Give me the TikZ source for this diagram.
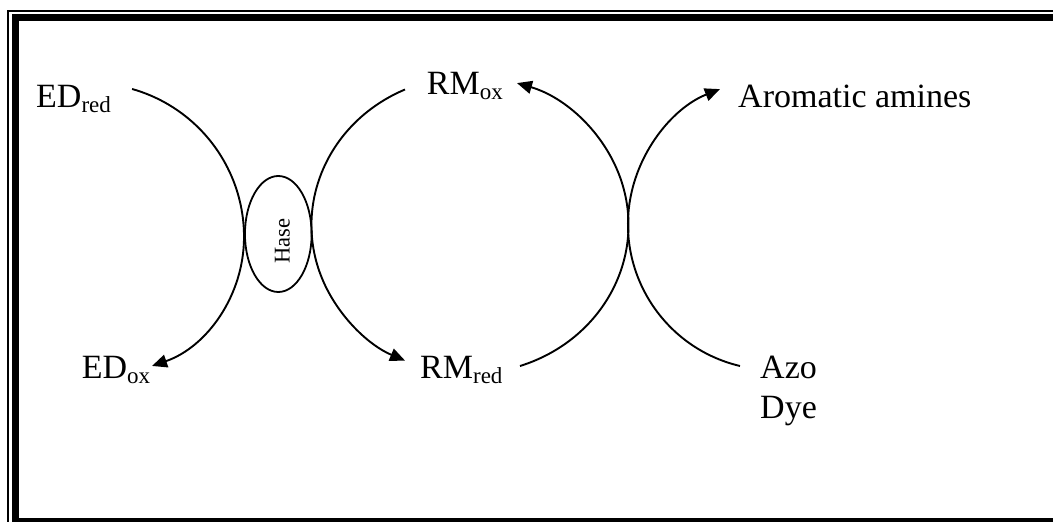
\documentclass[tikz,border=0pt]{standalone}
\usepackage{fontspec}
\setmainfont{Liberation Serif}
\usetikzlibrary{arrows.meta,shapes.geometric}
\newcommand\sbx[1]{\raisebox{-5pt}{\fontsize{23}{23}\selectfont #1}}
\begin{document}
\begin{tikzpicture}[x=1pt,y=1pt,
  lbl/.style={inner sep=0pt, anchor=base west, font=\fontsize{34}{40}\selectfont},
  arcline/.style={line width=1.9pt},
  arr/.style={arcline, -{Triangle[length=15pt,width=13pt]}}]
\useasboundingbox (0,0) rectangle (1053,522);
\clip (0,0) rectangle (1053,522);
\fill[white] (0,0) rectangle (1053,522);
% frame
\draw[line width=1.3pt] (8,-10) rectangle (1075,511);
\draw[line width=7pt] (15,0.5) rectangle (1065,504.7);
% labels
\node[lbl] (edred) at (36,414) {ED\sbx{red}};
\node[lbl] (rmox) at (426.7,427) {RM\sbx{ox}};
\node[lbl] (arom) at (738,414) {Aromatic amines};
\node[lbl] (edox) at (81.7,143) {ED\sbx{ox}};
\node[lbl] (rmred) at (420,143) {RM\sbx{red}};
\node[lbl, align=left] (azo) at (760,103) {Azo\\Dye};
% Hase
\node[draw, ellipse, line width=1.8pt, inner sep=0pt, minimum width=66.7pt, minimum height=116pt] (hase) at (278.3,288) {};
\node[rotate=90, inner sep=0pt, font=\fontsize{22.5}{24}\selectfont] (hasetxt) at ([xshift=4pt,yshift=-7pt]hase.center) {Hase};
% arc start points
\coordinate (a1s) at (132.1,433);
\coordinate (b1s) at (405,432.5);
\coordinate (b2s) at (520,156);
\coordinate (c1s) at (740,156);
% ED cycle (touches Hase on the left)
\draw[arr] (a1s) arc[start angle=74.2, end angle=0, radius=153.8]
                 arc[start angle=0, end angle=-71, radius=136.4];
% RM cycle
\draw[arr] (b1s) arc[start angle=114.2, end angle=245.8, x radius=158.5, y radius=148.6];
\draw[arr] (b2s) arc[start angle=-71.6, end angle=72.75, x radius=158.5, y radius=148.6];
% Azo dye -> aromatic amines
\draw[arr] (c1s) arc[start angle=256.7, end angle=111.6, radius=145.5];
\end{tikzpicture}
\end{document}
